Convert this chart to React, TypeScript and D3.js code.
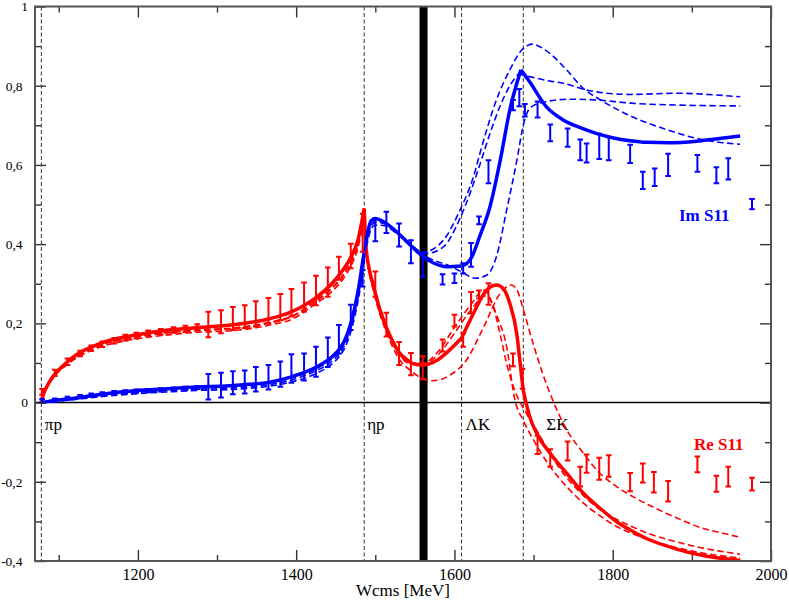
import React, { useEffect, useRef } from 'react';
import * as d3 from 'd3';

// thresholds (MeV)
const thresholdW = [1078, 1486, 1609, 1687];
const thresholdNames = ['πp', 'ηp', 'ΛK', 'ΣK'];
const bandW = 1561;

// axis ticks
const xMajor = [1200, 1400, 1600, 1800, 2000];
const xMinor = [1100, 1300, 1500, 1700, 1900];
const xTickLabels = ['1200', '1400', '1600', '1800', '2000'];
const yMajor = [-0.4, -0.2, 0, 0.2, 0.4, 0.6, 0.8, 1];
const yMinor = [-0.3, -0.1, 0.1, 0.3, 0.5, 0.7, 0.9];
const yTickLabels = ['-0,4', '-0,2', '0', '0,2', '0,4', '0,6', '0,8', '1'];

// Re S11 data
const reDataW = [1079, 1095, 1111, 1127, 1141, 1155, 1170, 1184, 1198, 1213, 1229, 1245, 1260, 1275, 1289, 1305, 1320, 1335, 1349, 1365, 1380, 1394, 1410, 1425, 1440, 1454, 1469, 1484, 1500, 1514, 1530, 1545, 1560, 1585, 1600, 1611, 1621, 1631, 1643, 1674, 1686, 1705, 1721, 1743, 1759, 1767, 1783, 1795, 1822, 1838, 1852, 1870, 1907, 1931, 1946, 1976];
const reDataV = [0.027, 0.075, 0.103, 0.124, 0.137, 0.147, 0.156, 0.164, 0.169, 0.175, 0.179, 0.183, 0.186, 0.19, 0.197, 0.204, 0.212, 0.217, 0.224, 0.232, 0.241, 0.252, 0.266, 0.283, 0.304, 0.339, 0.37, 0.429, 0.299, 0.197, 0.124, 0.097, 0.088, 0.144, 0.207, 0.158, 0.252, 0.273, 0.274, 0.108, 0.06, -0.107, -0.14, -0.122, -0.187, -0.154, -0.167, -0.16, -0.201, -0.178, -0.201, -0.224, -0.156, -0.205, -0.187, -0.206];
const reDataE = [0.007, 0.008, 0.008, 0.007, 0.007, 0.007, 0.007, 0.007, 0.007, 0.007, 0.007, 0.007, 0.008, 0.008, 0.032, 0.029, 0.029, 0.029, 0.032, 0.032, 0.033, 0.035, 0.037, 0.037, 0.037, 0.029, 0.031, 0.048, 0.032, 0.03, 0.029, 0.028, 0.029, 0.015, 0.015, 0.017, 0.027, 0.01, 0.027, 0.016, 0.025, 0.023, 0.022, 0.024, 0.025, 0.023, 0.028, 0.027, 0.023, 0.024, 0.026, 0.026, 0.02, 0.02, 0.025, 0.016];

// Im S11 data
const imDataW = [1079, 1095, 1111, 1127, 1141, 1155, 1170, 1184, 1198, 1213, 1229, 1245, 1260, 1275, 1289, 1305, 1320, 1335, 1349, 1365, 1380, 1394, 1410, 1425, 1440, 1454, 1469, 1484, 1500, 1514, 1530, 1545, 1560, 1585, 1600, 1611, 1621, 1631, 1643, 1674, 1682, 1689, 1705, 1721, 1743, 1759, 1767, 1783, 1795, 1822, 1838, 1853, 1870, 1907, 1931, 1946, 1976];
const imDataV = [0.005, 0.006, 0.011, 0.015, 0.019, 0.022, 0.025, 0.027, 0.029, 0.03, 0.032, 0.034, 0.036, 0.038, 0.04, 0.044, 0.05, 0.052, 0.059, 0.064, 0.072, 0.086, 0.09, 0.103, 0.127, 0.16, 0.215, 0.314, 0.435, 0.455, 0.423, 0.381, 0.347, 0.311, 0.314, 0.339, 0.373, 0.46, 0.583, 0.751, 0.77, 0.738, 0.74, 0.681, 0.669, 0.638, 0.63, 0.647, 0.641, 0.628, 0.561, 0.569, 0.6, 0.604, 0.574, 0.59, 0.501];
const imDataE = [0.004, 0.004, 0.004, 0.004, 0.004, 0.004, 0.004, 0.004, 0.004, 0.004, 0.004, 0.004, 0.004, 0.004, 0.032, 0.031, 0.029, 0.029, 0.031, 0.031, 0.032, 0.036, 0.034, 0.038, 0.037, 0.036, 0.032, 0.021, 0.028, 0.027, 0.029, 0.029, 0.029, 0.013, 0.012, 0.013, 0.03, 0.01, 0.029, 0.013, 0.022, 0.016, 0.02, 0.021, 0.023, 0.026, 0.024, 0.032, 0.029, 0.023, 0.022, 0.022, 0.028, 0.021, 0.02, 0.027, 0.013];

// Re S11 fit (solid)
const reFitW = [1078, 1082, 1087, 1095, 1105, 1112, 1122, 1133, 1145, 1154, 1170, 1196, 1238, 1281, 1323, 1365, 1394, 1425, 1445, 1460, 1470, 1478, 1486, 1488, 1492, 1497, 1505, 1514, 1522, 1530, 1540, 1548, 1560, 1578, 1594, 1609, 1624, 1639, 1653, 1662, 1670, 1679, 1683, 1687, 1695, 1704, 1721, 1742, 1763, 1784, 1805, 1826, 1847, 1868, 1893, 1919, 1961];
const reFitV = [0.003, 0.028, 0.048, 0.072, 0.092, 0.105, 0.12, 0.133, 0.143, 0.151, 0.16, 0.17, 0.183, 0.19, 0.197, 0.211, 0.229, 0.265, 0.3, 0.337, 0.37, 0.41, 0.49, 0.4, 0.34, 0.3, 0.24, 0.19, 0.155, 0.127, 0.108, 0.098, 0.095, 0.107, 0.133, 0.163, 0.225, 0.28, 0.297, 0.287, 0.25, 0.17, 0.1, 0.03, -0.035, -0.078, -0.128, -0.179, -0.229, -0.267, -0.301, -0.326, -0.347, -0.362, -0.377, -0.388, -0.398];

// Re S11 alternative fits (dashed)
const reAltPW = [1078, 1082, 1087, 1095, 1112, 1133, 1154, 1196, 1238, 1281, 1323, 1365, 1394, 1425, 1445, 1460, 1470, 1478, 1486, 1488, 1492, 1497, 1505, 1514, 1522, 1530, 1545, 1560, 1580, 1600, 1620, 1637, 1654, 1666, 1676, 1687, 1700, 1721, 1742, 1763, 1784, 1805, 1826, 1847, 1868, 1889, 1920, 1961];
const reAltPV = [0.003, 0.027, 0.046, 0.069, 0.1, 0.127, 0.145, 0.164, 0.176, 0.182, 0.187, 0.2, 0.216, 0.255, 0.287, 0.322, 0.357, 0.398, 0.478, 0.395, 0.335, 0.295, 0.235, 0.185, 0.152, 0.124, 0.1, 0.1, 0.13, 0.19, 0.245, 0.284, 0.217, 0.141, 0.01, -0.045, -0.095, -0.162, -0.213, -0.254, -0.286, -0.313, -0.332, -0.347, -0.36, -0.37, -0.382, -0.392];
const reAltQW = [1078, 1082, 1087, 1095, 1112, 1133, 1154, 1196, 1238, 1281, 1323, 1365, 1394, 1425, 1445, 1460, 1470, 1478, 1486, 1488, 1492, 1497, 1505, 1514, 1522, 1530, 1545, 1557, 1573, 1594, 1615, 1637, 1658, 1672, 1680, 1687, 1700, 1712, 1723, 1742, 1763, 1784, 1805, 1826, 1847, 1868, 1889, 1910, 1935, 1961];
const reAltQV = [0.003, 0.027, 0.047, 0.07, 0.101, 0.13, 0.147, 0.166, 0.178, 0.184, 0.189, 0.202, 0.218, 0.258, 0.29, 0.325, 0.36, 0.4, 0.475, 0.392, 0.332, 0.288, 0.228, 0.178, 0.14, 0.11, 0.08, 0.063, 0.055, 0.069, 0.107, 0.191, 0.276, 0.297, 0.28, 0.235, 0.145, 0.07, 0.012, -0.069, -0.128, -0.179, -0.212, -0.238, -0.26, -0.28, -0.298, -0.315, -0.328, -0.34];
const reAltRW = [1078, 1082, 1087, 1095, 1112, 1133, 1154, 1196, 1238, 1281, 1323, 1365, 1394, 1425, 1445, 1460, 1470, 1478, 1486, 1488, 1492, 1497, 1505, 1514, 1522, 1530, 1545, 1560, 1580, 1600, 1620, 1640, 1650, 1658, 1667, 1676, 1691, 1704, 1721, 1742, 1763, 1784, 1805, 1826, 1847, 1868, 1889, 1910, 1935, 1961];
const reAltRV = [0.003, 0.026, 0.045, 0.067, 0.098, 0.124, 0.141, 0.16, 0.171, 0.178, 0.182, 0.195, 0.21, 0.25, 0.28, 0.314, 0.348, 0.39, 0.47, 0.39, 0.332, 0.29, 0.232, 0.183, 0.148, 0.12, 0.098, 0.097, 0.122, 0.175, 0.232, 0.27, 0.235, 0.17, 0.09, 0.032, -0.027, -0.07, -0.13, -0.19, -0.235, -0.27, -0.295, -0.315, -0.332, -0.345, -0.356, -0.366, -0.375, -0.383];

// Im S11 fit (solid)
const imFitW = [1078, 1090, 1112, 1133, 1154, 1196, 1238, 1281, 1304, 1340, 1365, 1394, 1425, 1445, 1454, 1462, 1469, 1474, 1479, 1485, 1491, 1495, 1500, 1510, 1527, 1544, 1557, 1573, 1590, 1609, 1615, 1622, 1632, 1645, 1658, 1670, 1684, 1695, 1716, 1738, 1759, 1780, 1801, 1822, 1843, 1872, 1906, 1935, 1961];
const imFitV = [0, 0.004, 0.009, 0.015, 0.021, 0.03, 0.035, 0.04, 0.041, 0.046, 0.051, 0.065, 0.089, 0.115, 0.133, 0.16, 0.2, 0.24, 0.29, 0.368, 0.436, 0.46, 0.465, 0.457, 0.431, 0.398, 0.374, 0.353, 0.343, 0.345, 0.35, 0.368, 0.42, 0.495, 0.613, 0.739, 0.84, 0.81, 0.747, 0.713, 0.694, 0.679, 0.668, 0.661, 0.657, 0.656, 0.66, 0.667, 0.673];

// Im S11 alternative fits (dashed)
const imAltAW = [1078, 1112, 1154, 1196, 1238, 1281, 1304, 1340, 1365, 1394, 1425, 1445, 1454, 1462, 1469, 1474, 1479, 1485, 1491, 1495, 1500, 1510, 1527, 1544, 1560, 1586, 1607, 1624, 1633, 1653, 1670, 1685, 1698, 1715, 1738, 1763, 1788, 1822, 1864, 1906, 1961];
const imAltAV = [0, 0.007, 0.017, 0.025, 0.03, 0.034, 0.035, 0.04, 0.045, 0.057, 0.08, 0.104, 0.122, 0.148, 0.187, 0.226, 0.275, 0.35, 0.42, 0.447, 0.455, 0.452, 0.43, 0.4, 0.38, 0.41, 0.486, 0.57, 0.635, 0.764, 0.84, 0.89, 0.905, 0.89, 0.848, 0.793, 0.76, 0.724, 0.692, 0.667, 0.652];
const imAltBW = [1078, 1112, 1154, 1196, 1238, 1281, 1304, 1340, 1365, 1394, 1425, 1445, 1454, 1462, 1469, 1474, 1479, 1485, 1491, 1495, 1500, 1510, 1527, 1544, 1565, 1586, 1607, 1620, 1632, 1645, 1658, 1670, 1681, 1695, 1720, 1738, 1767, 1788, 1822, 1880, 1920, 1961];
const imAltBV = [0, 0.006, 0.015, 0.022, 0.027, 0.031, 0.032, 0.036, 0.041, 0.052, 0.073, 0.097, 0.115, 0.14, 0.178, 0.217, 0.265, 0.34, 0.412, 0.44, 0.448, 0.447, 0.427, 0.398, 0.377, 0.393, 0.465, 0.53, 0.6, 0.68, 0.75, 0.8, 0.83, 0.823, 0.812, 0.806, 0.789, 0.782, 0.778, 0.781, 0.778, 0.772];
const imAltCW = [1078, 1112, 1154, 1196, 1238, 1281, 1304, 1340, 1365, 1394, 1425, 1445, 1454, 1462, 1469, 1474, 1479, 1485, 1491, 1495, 1500, 1510, 1527, 1544, 1557, 1573, 1594, 1609, 1626, 1641, 1653, 1666, 1679, 1687, 1696, 1716, 1746, 1780, 1822, 1885, 1961];
const imAltCV = [0, 0.008, 0.019, 0.028, 0.033, 0.038, 0.039, 0.044, 0.049, 0.062, 0.085, 0.11, 0.128, 0.155, 0.194, 0.233, 0.282, 0.36, 0.43, 0.455, 0.46, 0.455, 0.43, 0.397, 0.377, 0.36, 0.345, 0.33, 0.314, 0.322, 0.368, 0.486, 0.613, 0.7, 0.745, 0.76, 0.766, 0.764, 0.756, 0.751, 0.749];

const RED = '#ff0000';
const BLUE = '#0000ff';
const FONT = 'Liberation Serif, Times New Roman, Times, serif';

// split a curve at its cusp energies so the kink stays sharp
const splitAtCusps = (ws: number[], vs: number[], cusps: number[]) => {
  const out: [number, number][][] = [];
  let cur: [number, number][] = [];
  ws.forEach((w, i) => {
    const p: [number, number] = [w, vs[i]];
    cur.push(p);
    if (cusps.includes(w) && i > 0 && i < ws.length - 1) {
      out.push(cur);
      cur = [p];
    }
  });
  if (cur.length > 1) out.push(cur);
  return out;
};

const App = () => {
  const svgRef = useRef<SVGSVGElement>(null);

  useEffect(() => {
    const svg: any = d3.select(svgRef.current);
    svg.selectAll('*').remove();

    const x = d3.scaleLinear().domain([1070, 2000]).range([35, 771]);
    const y = d3.scaleLinear().domain([-0.4, 1]).range([561, 6.5]);

    // black band
    svg
      .append('rect')
      .attr('x', x(bandW) - 4)
      .attr('y', y(1))
      .attr('width', 8)
      .attr('height', y(-0.4) - y(1))
      .attr('fill', '#000');

    // zero line
    svg
      .append('line')
      .attr('x1', x(1070))
      .attr('x2', x(2000))
      .attr('y1', y(0))
      .attr('y2', y(0))
      .attr('stroke', '#000')
      .attr('stroke-width', 1.6);

    // thresholds
    svg
      .selectAll('.thr')
      .data(thresholdW)
      .join('line')
      .attr('class', 'thr')
      .attr('x1', (d: number) => x(d))
      .attr('x2', (d: number) => x(d))
      .attr('y1', y(1))
      .attr('y2', y(-0.4))
      .attr('stroke', '#333')
      .attr('stroke-width', 1)
      .attr('stroke-dasharray', '4,2.5');

    const labelDx = [3.5, 3, 4, 23];
    svg
      .selectAll('.thrLabel')
      .data(thresholdW)
      .join('text')
      .attr('class', 'thrLabel')
      .attr('x', (d: number, i: number) => x(d) + labelDx[i])
      .attr('y', 429.5)
      .attr('font-family', FONT)
      .attr('font-size', 17)
      .attr('fill', '#000')
      .text((_: number, i: number) => thresholdNames[i]);

    const line = d3
      .line<[number, number]>()
      .x((d) => x(d[0]))
      .y((d) => y(d[1]))
      .curve(d3.curveMonotoneX);

    const drawCurve = (ws: number[], vs: number[], cusps: number[], color: string, dashed: boolean) => {
      splitAtCusps(ws, vs, cusps).forEach((piece) => {
        svg
          .append('path')
          .attr('d', line(piece))
          .attr('fill', 'none')
          .attr('stroke', color)
          .attr('stroke-width', dashed ? 1.6 : 3.5)
          .attr('stroke-linejoin', 'round')
          .attr('stroke-dasharray', dashed ? '6.5,3.5' : null);
      });
    };

    drawCurve(reAltPW, reAltPV, [1486], RED, true);
    drawCurve(reAltQW, reAltQV, [1486], RED, true);
    drawCurve(reAltRW, reAltRV, [1486], RED, true);
    drawCurve(imAltAW, imAltAV, [], BLUE, true);
    drawCurve(imAltBW, imAltBV, [1681], BLUE, true);
    drawCurve(imAltCW, imAltCV, [], BLUE, true);
    drawCurve(reFitW, reFitV, [1486, 1609, 1687], RED, false);
    drawCurve(imFitW, imFitV, [1609, 1684], BLUE, false);

    // error bars
    const drawBars = (ws: number[], vs: number[], es: number[], color: string) => {
      svg
        .append('g')
        .selectAll('path')
        .data(ws)
        .join('path')
        .attr('d', (w: number, i: number) => {
          const px = x(w);
          const top = y(vs[i] + es[i]);
          const bot = y(vs[i] - es[i]);
          return `M${px},${top}V${bot}M${px - 2.8},${top}H${px + 2.8}M${px - 2.8},${bot}H${px + 2.8}`;
        })
        .attr('fill', 'none')
        .attr('stroke', color)
        .attr('stroke-width', 2);
    };
    drawBars(reDataW, reDataV, reDataE, RED);
    drawBars(imDataW, imDataV, imDataE, BLUE);

    // axes
    const styleAxis = (g: any) => {
      g.select('.domain').remove();
      g.attr('color', '#333').attr('font-family', FONT).attr('font-size', 16);
      g.selectAll('line').attr('stroke-width', 1.4);
    };
    const blank = () => '';

    svg
      .append('g')
      .attr('transform', `translate(0,${y(-0.4)})`)
      .call(
        d3
          .axisBottom(x)
          .tickValues(xMajor)
          .tickSize(-11)
          .tickPadding(8)
          .tickFormat((_: any, i: number) => xTickLabels[i])
      )
      .call(styleAxis);
    svg
      .append('g')
      .attr('transform', `translate(0,${y(-0.4)})`)
      .call(d3.axisBottom(x).tickValues(xMinor).tickSize(-6).tickFormat(blank))
      .call(styleAxis);
    svg
      .append('g')
      .attr('transform', `translate(0,${y(1)})`)
      .call(d3.axisTop(x).tickValues(xMajor).tickSize(-11).tickFormat(blank))
      .call(styleAxis);
    svg
      .append('g')
      .attr('transform', `translate(0,${y(1)})`)
      .call(d3.axisTop(x).tickValues(xMinor).tickSize(-6).tickFormat(blank))
      .call(styleAxis);

    const left = svg
      .append('g')
      .attr('transform', `translate(${x(1070)},0)`)
      .call(
        d3
          .axisLeft(y)
          .tickValues(yMajor)
          .tickSize(-11)
          .tickPadding(7)
          .tickFormat((_: any, i: number) => yTickLabels[i])
      )
      .call(styleAxis);
    left.selectAll('text').attr('font-size', 13.5);
    left
      .selectAll('text')
      .filter((_: any, i: number) => yTickLabels[i].includes(','))
      .attr('dx', -5.5);
    svg
      .append('g')
      .attr('transform', `translate(${x(1070)},0)`)
      .call(d3.axisLeft(y).tickValues(yMinor).tickSize(-6).tickFormat(blank))
      .call(styleAxis);
    svg
      .append('g')
      .attr('transform', `translate(${x(2000)},0)`)
      .call(d3.axisRight(y).tickValues(yMajor).tickSize(-11).tickFormat(blank))
      .call(styleAxis);
    svg
      .append('g')
      .attr('transform', `translate(${x(2000)},0)`)
      .call(d3.axisRight(y).tickValues(yMinor).tickSize(-6).tickFormat(blank))
      .call(styleAxis);

    svg.selectAll('.tick text').attr('fill', '#000');

    // frame
    svg
      .append('rect')
      .attr('x', x(1070))
      .attr('y', y(1))
      .attr('width', x(2000) - x(1070))
      .attr('height', y(-0.4) - y(1))
      .attr('fill', 'none')
      .attr('stroke', '#555')
      .attr('stroke-width', 2);

    // titles
    svg
      .append('text')
      .attr('x', (x(1070) + x(2000)) / 2)
      .attr('y', 596)
      .attr('text-anchor', 'middle')
      .attr('font-family', FONT)
      .attr('font-size', 17)
      .text('Wcms [MeV]');

    svg
      .append('text')
      .attr('x', 679)
      .attr('y', 221)
      .attr('font-family', FONT)
      .attr('font-size', 17)
      .attr('font-weight', 'bold')
      .attr('fill', BLUE)
      .text('Im S11');
    svg
      .append('text')
      .attr('x', 694)
      .attr('y', 450)
      .attr('font-family', FONT)
      .attr('font-size', 17)
      .attr('font-weight', 'bold')
      .attr('fill', RED)
      .text('Re S11');
  }, []);

  return (
    <svg
      ref={svgRef}
      width={789}
      height={602}
      style={{ position: 'absolute', left: 0, top: 0, background: '#fff' }}
    />
  );
};

export default App;
